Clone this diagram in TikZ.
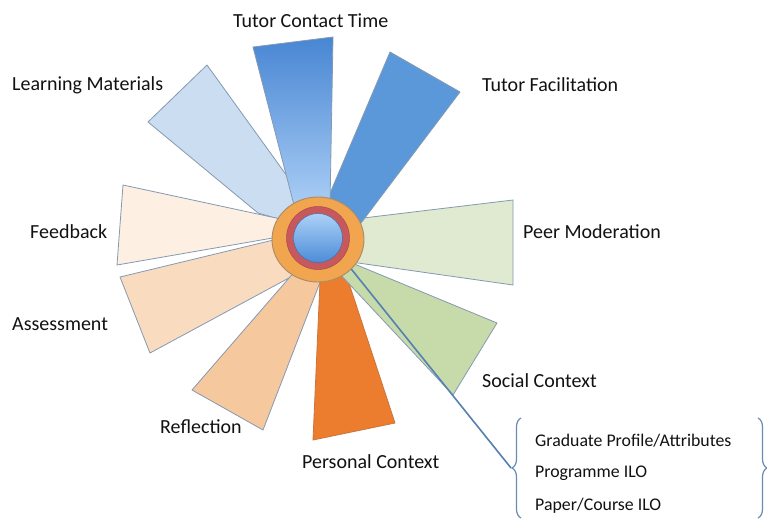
\documentclass[tikz,border=0pt]{standalone}
\usepackage{fontspec}
\setmainfont{Carlito}
\usetikzlibrary{shapes.geometric,decorations.pathreplacing}
\definecolor{txt}{HTML}{121212}
\definecolor{petalline}{HTML}{8599B2}
\definecolor{tctTop}{HTML}{4886D3}
\definecolor{tctBot}{HTML}{A9CDF5}
\definecolor{tfFill}{HTML}{5A98DA}
\definecolor{lmFill}{HTML}{CADDF1}
\definecolor{fbFill}{HTML}{FDEFE2}
\definecolor{asFill}{HTML}{F9DCC0}
\definecolor{rfFill}{HTML}{F6C89E}
\definecolor{pcFill}{HTML}{EC7D2E}
\definecolor{pcLine}{HTML}{C8763C}
\definecolor{scFill}{HTML}{C6DBA9}
\definecolor{pmFill}{HTML}{DFEAD1}
\definecolor{hubOrange}{HTML}{F0A54E}
\definecolor{hubLine}{HTML}{A88B68}
\definecolor{ringRed}{HTML}{C7585B}
\definecolor{coreTop}{HTML}{ADD1F7}
\definecolor{coreBot}{HTML}{4C8CD8}
\definecolor{connblue}{HTML}{5580B2}
\definecolor{braceblue}{HTML}{6A8BB3}
\begin{document}
\begin{tikzpicture}[x=1pt,y=-1pt,
  petal/.style={draw=petalline, line width=0.8pt, line join=round},
  lbl/.style={anchor=base west, inner sep=0pt, text=txt, font=\fontsize{20}{24}\selectfont},
  boxlbl/.style={anchor=base west, inner sep=0pt, text=txt, font=\fontsize{17.8}{21}\selectfont},
  conn/.style={draw=connblue, line width=1.6pt},
  bracestyle/.style={draw=braceblue, line width=1.2pt, decorate, decoration={brace, amplitude=9pt, aspect=0.5}}]
\useasboundingbox[fill=white] (0,0) rectangle (767,519);

% petals
\path[petal, fill=lmFill] (207,65) -- (300,194) -- (300,225) -- (258,213) -- (148,122) -- cycle;
\path[petal, fill=fbFill] (123,185) -- (290,221) -- (290,235) -- (117,265) -- cycle;
\path[petal, fill=asFill] (120,277) -- (290,236) -- (300,272) -- (150,353) -- cycle;
\path[petal, fill=rfFill] (192,390) -- (296,270) -- (324,272) -- (263,430) -- cycle;
\path[petal, draw=pcLine, fill=pcFill] (320.5,270) -- (343,265) -- (395,423) -- (313,440) -- cycle;
\path[petal, fill=scFill] (340,258) -- (497,323) -- (453,395) -- (338,272) -- cycle;
\path[petal, fill=pmFill] (330,222) -- (513,200) -- (513,285) -- (330,259) -- cycle;
\path[petal, fill=tfFill] (390,52) -- (460,92) -- (355,231) -- (325,205) -- cycle;
\path[petal, top color=tctTop, bottom color=tctBot] (253,47) -- (333,37) -- (330,205) -- (294,205) -- cycle;

% connector to brace
\coordinate (lstart) at (340,255);
\coordinate (tip) at (511,468);
\draw[conn] (lstart) -- (tip);

% hub
\node[ellipse, draw=hubLine, line width=0.9pt, fill=hubOrange, minimum width=92pt, minimum height=85pt, inner sep=0pt] (hub) at (318,239.5) {};
\node[circle, draw=ringRed!85!black, line width=0.5pt, fill=ringRed, minimum size=63pt, inner sep=0pt] (ring) at (318,238) {};
\node[circle, draw=coreBot!80!black, line width=0.5pt, top color=coreTop, bottom color=coreBot, minimum size=49pt, inner sep=0pt] (core) at (318,238) {};

% labels
\node[lbl] (ltct) at (233,28) {Tutor Contact Time};
\node[lbl] (llm) at (12,90) {Learning Materials};
\node[lbl] (ltf) at (482,91) {Tutor Facilitation};
\node[lbl] (lfb) at (30,238) {Feedback};
\node[lbl] (lpm) at (523,238) {Peer Moderation};
\node[lbl] (las) at (12,330) {Assessment};
\node[lbl] (lsc) at (482,387) {Social Context};
\node[lbl] (lrf) at (160,433) {Reflection};
\node[lbl] (lpc) at (302,468) {Personal Context};

% braces and box texts
\coordinate (lbtop) at (521,418);
\coordinate (lbbot) at (521,518);
\coordinate (rbtop) at (758,418);
\coordinate (rbbot) at (758,518);
\draw[bracestyle] (lbbot) -- (lbtop);
\draw[bracestyle] (rbtop) -- (rbbot);
\node[boxlbl] (g1) at (535,446) {Graduate Profile/Attributes};
\node[boxlbl] (g2) at (535,477) {Programme ILO};
\node[boxlbl] (g3) at (535,510) {Paper/Course ILO};
\end{tikzpicture}
\end{document}
